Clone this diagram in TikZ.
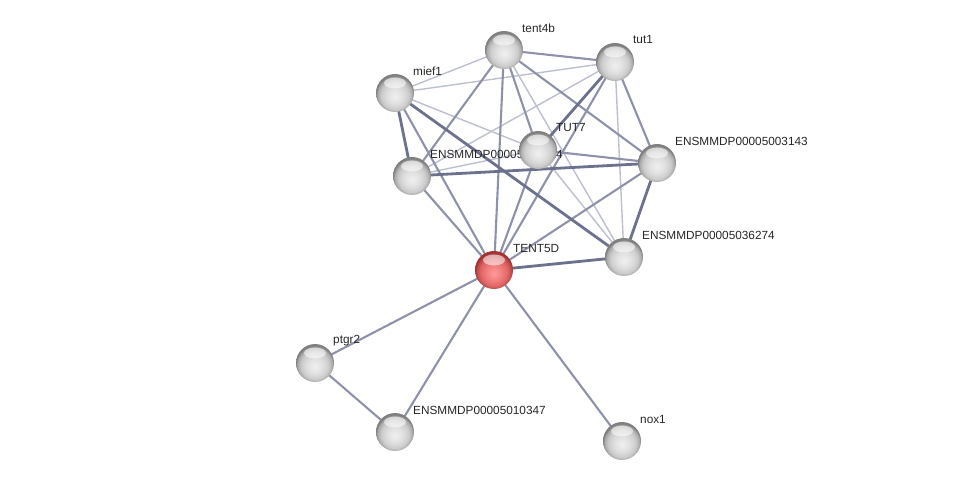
\documentclass[tikz,border=0pt]{standalone}
\usepackage{fontspec}
\setmainfont{Liberation Sans}
\usetikzlibrary{shapes.geometric}
\definecolor{ethick}{HTML}{6C718D}
\definecolor{emed}{HTML}{8D92AA}
\definecolor{ethin}{HTML}{BCBFCF}
\pgfdeclareradialshading{greysphere}{\pgfpoint{0bp}{-5bp}}{%
  color(0bp)=(white!94!black);
  color(10bp)=(white!88!black);
  color(18bp)=(white!80!black);
  color(23bp)=(white!66!black);
  color(25bp)=(white!50!black);
  color(50bp)=(white!50!black)}
\pgfdeclareradialshading{redsphere}{\pgfpoint{0bp}{-5bp}}{%
  color(0bp)=(red!40!white);
  color(10bp)=(red!48!white!95!black);
  color(18bp)=(red!55!white!88!black);
  color(23bp)=(red!60!white!72!black);
  color(25bp)=(red!55!black!80!white);
  color(50bp)=(red!55!black!80!white)}
\tikzset{
  ethk/.style={draw=ethick, line width=2.8pt},
  emd/.style={draw=emed, line width=2.1pt},
  etn/.style={draw=ethin, line width=1.4pt},
  ball/.style={circle, minimum size=38pt, inner sep=0pt, shading=greysphere},
  redball/.style={circle, minimum size=38pt, inner sep=0pt, shading=redsphere},
  hl/.style={ellipse, minimum width=22pt, minimum height=11pt, inner sep=0pt, shading=axis, top color=white, bottom color=white, fill opacity=0.55},
  lbl/.style={anchor=west, inner sep=0pt, font=\fontsize{11.8pt}{12pt}\selectfont, text=black!85}
}
\begin{document}
\begin{tikzpicture}[x=1pt,y=-1pt]
\useasboundingbox (0,0) rectangle (976,486);
\coordinate (A) at (504,50);
\coordinate (B) at (615,62);
\coordinate (C) at (395,93);
\coordinate (D) at (538,150);
\coordinate (E) at (412,176);
\coordinate (F) at (657,163);
\coordinate (G) at (624,257);
\coordinate (H) at (494,270);
\coordinate (I) at (315,363);
\coordinate (J) at (395,432);
\coordinate (K) at (622,441);
% edges
\draw[etn] (A) -- (C);
\draw[etn] (A) -- (G);
\draw[etn] (B) -- (C);
\draw[etn] (B) -- (E);
\draw[etn] (B) -- (G);
\draw[etn] (C) -- (D);
\draw[etn] (E) -- (D);
\draw[etn] (D) -- (G);
\draw[emd] (A) -- (B);
\draw[emd] (A) -- (E);
\draw[emd] (A) -- (H);
\draw[emd] (A) -- (D);
\draw[emd] (A) -- (F);
\draw[emd] (B) -- (H);
\draw[emd] (B) -- (F);
\draw[emd] (C) -- (H);
\draw[emd] (E) -- (H);
\draw[emd] (D) -- (F);
\draw[emd] (D) -- (H);
\draw[emd] (F) -- (H);
\draw[emd] (H) -- (I);
\draw[emd] (H) -- (J);
\draw[emd] (H) -- (K);
\draw[emd] (I) -- (J);
\draw[ethk] (B) -- (D);
\draw[ethk] (C) -- (E);
\draw[ethk] (C) -- (G);
\draw[ethk] (E) -- (F);
\draw[ethk] (F) -- (G);
\draw[ethk] (H) -- (G);
% labels
\node[lbl] (lA) at (522,28) {tent4b};
\node[lbl] (lB) at (633,40) {tut1};
\node[lbl] (lC) at (413,71) {mief1};
\node[lbl] (lD) at (556,128) {TUT7};
\node[lbl] (lE) at (430,154) {ENSMMDP00005017214};
\node[lbl] (lF) at (675,141) {ENSMMDP00005003143};
\node[lbl] (lG) at (642,235) {ENSMMDP00005036274};
\node[lbl] (lH) at (513,248) {TENT5D};
\node[lbl] (lI) at (333,341) {ptgr2};
\node[lbl] (lJ) at (413,410) {ENSMMDP00005010347};
\node[lbl] (lK) at (640,419) {nox1};
% balls
\foreach \p in {A,B,C,D,E,F,G,I,J,K}{
  \node[ball] (n\p) at (\p) {};
  \node[hl] (h\p) at ([yshift=10pt]\p) {};
}
\node[redball] (nH) at (H) {};
\node[hl] (hH) at ([yshift=10pt]H) {};
\end{tikzpicture}
\end{document}
